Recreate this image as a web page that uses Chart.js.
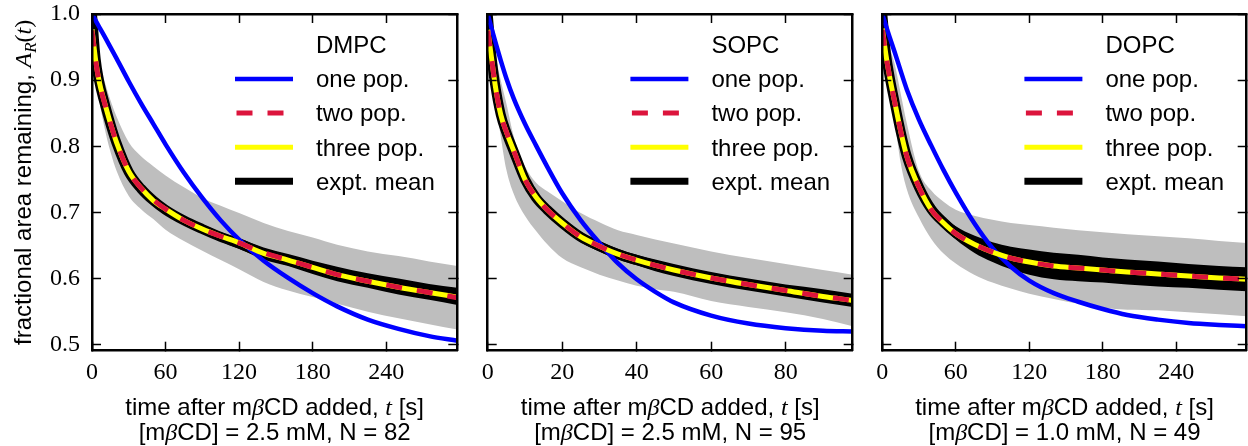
<!DOCTYPE html>
<html><head><meta charset="utf-8">
<script src="https://cdn.jsdelivr.net/npm/chart.js@4.4.1/dist/chart.umd.min.js"></script>
<style>
html,body{margin:0;padding:0;background:#fff;overflow:hidden;width:1248px;height:446px}
canvas{position:absolute;top:0}
</style></head><body>
<canvas id="c1" width="470" height="446" style="left:0px"></canvas>
<canvas id="c2" width="395" height="446" style="left:470px"></canvas>
<canvas id="c3" width="383" height="446" style="left:865px"></canvas>
<script>
// ---------- data ----------
const lipids = ['DMPC', 'SOPC', 'DOPC'];
const concentrations = ['2.5', '2.5', '1.0'];
const sampleCounts = [82, 95, 49];
const seriesNames = ['one pop.', 'two pop.', 'three pop.', 'expt. mean'];
const xTickValues = [[0, 60, 120, 180, 240], [0, 20, 40, 60, 80], [0, 60, 120, 180, 240]];
const xMaxima = [298, 98, 297.5];
const yTickValues = [0.5, 0.6, 0.7, 0.8, 0.9, 1.0];
const yTickLabels = ['0.5', '0.6', '0.7', '0.8', '0.9', '1.0'];

// DMPC
const p1Time  = [0,3,6,10,15,20,30,40,50,60,75,90,105,120,140,160,180,200,225,250,275,298];
const p1One   = [1.000,0.990,0.980,0.967,0.950,0.933,0.898,0.865,0.834,0.803,0.760,0.722,0.688,0.659,0.627,0.601,0.578,0.558,0.538,0.524,0.513,0.506];
const p1Two   = [0.975,0.929,0.896,0.867,0.835,0.806,0.762,0.737,0.719,0.705,0.688,0.675,0.664,0.654,0.639,0.628,0.617,0.606,0.596,0.587,0.579,0.571];
const p1Three = [0.977,0.930,0.897,0.868,0.835,0.806,0.762,0.737,0.718,0.705,0.688,0.675,0.664,0.654,0.638,0.628,0.617,0.606,0.596,0.587,0.579,0.572];
const p1Mean  = [1.000,0.932,0.897,0.867,0.834,0.805,0.761,0.736,0.718,0.704,0.688,0.675,0.663,0.653,0.638,0.628,0.617,0.607,0.597,0.588,0.580,0.573];
const p1MeanHi= [1.000,0.935,0.900,0.870,0.837,0.809,0.765,0.741,0.723,0.710,0.694,0.682,0.670,0.661,0.647,0.637,0.627,0.618,0.608,0.600,0.592,0.586];
const p1MeanLo= [1.000,0.929,0.894,0.864,0.831,0.801,0.757,0.731,0.713,0.698,0.682,0.668,0.656,0.645,0.629,0.619,0.607,0.596,0.586,0.576,0.568,0.560];
const p1SdHi  = [1.000,0.955,0.925,0.900,0.870,0.845,0.806,0.785,0.770,0.756,0.738,0.722,0.710,0.699,0.684,0.672,0.662,0.651,0.641,0.634,0.626,0.619];
const p1SdLo  = [1.000,0.915,0.870,0.830,0.792,0.763,0.725,0.705,0.690,0.674,0.657,0.642,0.628,0.614,0.595,0.582,0.572,0.562,0.550,0.540,0.531,0.523];

// SOPC
const p2Time  = [0,1,2,3.5,5,7,10,13,16,20,25,30,35,40,45,50,60,70,80,90,98];
const p2One   = [1.000,0.979,0.959,0.930,0.903,0.872,0.834,0.801,0.769,0.729,0.688,0.654,0.623,0.599,0.580,0.564,0.544,0.532,0.525,0.521,0.520];
const p2Two   = [0.975,0.934,0.893,0.848,0.822,0.793,0.750,0.723,0.704,0.684,0.663,0.649,0.637,0.628,0.620,0.613,0.601,0.591,0.582,0.573,0.567];
const p2Three = [0.976,0.935,0.893,0.848,0.822,0.793,0.750,0.723,0.704,0.684,0.663,0.649,0.637,0.628,0.620,0.613,0.601,0.591,0.582,0.573,0.567];
const p2Mean  = [1.000,0.937,0.893,0.848,0.821,0.792,0.750,0.722,0.704,0.684,0.663,0.649,0.637,0.628,0.620,0.613,0.601,0.591,0.582,0.574,0.567];
const p2MeanHi= [1.000,0.940,0.896,0.852,0.825,0.797,0.756,0.729,0.711,0.692,0.671,0.657,0.645,0.636,0.629,0.622,0.610,0.600,0.591,0.584,0.577];
const p2MeanLo= [1.000,0.934,0.890,0.844,0.817,0.787,0.744,0.715,0.697,0.676,0.655,0.641,0.629,0.620,0.611,0.604,0.592,0.582,0.573,0.564,0.557];
const p2SdHi  = [1.000,0.970,0.940,0.900,0.865,0.815,0.770,0.745,0.732,0.717,0.699,0.685,0.673,0.666,0.659,0.653,0.641,0.631,0.622,0.613,0.606];
const p2SdLo  = [1.000,0.925,0.875,0.815,0.765,0.728,0.695,0.672,0.652,0.631,0.617,0.606,0.597,0.589,0.584,0.580,0.566,0.557,0.549,0.539,0.528];

// DOPC
const p3Time  = [0,3,6,10,15,20,30,40,50,60,75,90,105,120,140,160,180,200,225,250,275,297.5];
const p3One   = [1.000,0.982,0.965,0.943,0.914,0.886,0.840,0.801,0.764,0.730,0.684,0.646,0.618,0.597,0.578,0.565,0.554,0.545,0.538,0.533,0.530,0.528];
const p3Two   = [0.976,0.937,0.905,0.868,0.823,0.785,0.738,0.704,0.684,0.668,0.652,0.640,0.631,0.625,0.619,0.616,0.613,0.610,0.607,0.604,0.601,0.599];
const p3Three = [0.978,0.938,0.905,0.868,0.823,0.785,0.738,0.704,0.684,0.668,0.652,0.640,0.631,0.625,0.619,0.616,0.613,0.610,0.607,0.604,0.601,0.599];
const p3Mean  = [1.000,0.940,0.905,0.867,0.822,0.785,0.738,0.705,0.685,0.669,0.652,0.640,0.631,0.625,0.619,0.616,0.613,0.610,0.607,0.604,0.601,0.599];
const p3MeanHi= [1.000,0.944,0.909,0.871,0.826,0.790,0.744,0.712,0.694,0.679,0.665,0.655,0.648,0.644,0.639,0.636,0.632,0.629,0.626,0.622,0.619,0.617];
const p3MeanLo= [1.000,0.936,0.901,0.863,0.818,0.780,0.732,0.698,0.676,0.659,0.639,0.625,0.614,0.606,0.599,0.596,0.594,0.591,0.588,0.586,0.583,0.581];
const p3SdHi  = [1.000,0.975,0.950,0.925,0.880,0.835,0.762,0.733,0.716,0.704,0.695,0.689,0.684,0.681,0.677,0.673,0.670,0.667,0.664,0.661,0.657,0.654];
const p3SdLo  = [1.000,0.935,0.890,0.840,0.775,0.735,0.692,0.660,0.638,0.623,0.606,0.594,0.585,0.577,0.569,0.562,0.556,0.553,0.552,0.549,0.546,0.543];

// ---------- drawing ----------
const SANS = '24px "Liberation Sans", Arial, Helvetica, sans-serif';
const MATH = 'italic 24px "Liberation Serif", "Times New Roman", serif';
const MATHUP = '24px "Liberation Serif", "Times New Roman", serif';
const MATHSUB = 'italic 17px "Liberation Serif", "Times New Roman", serif';

function drawRich(ctx, segs, x, y) {
  let w = 0;
  for (const s of segs) { ctx.font = s.f; s.w = ctx.measureText(s.t).width; w += s.w; }
  let cx = x - w / 2;
  for (const s of segs) { ctx.font = s.f; ctx.fillText(s.t, cx, y + (s.dy || 0)); cx += s.w; }
}

const decoPlugin = {
  id: 'deco',
  afterDraw(chart, args, o) {
    const ctx = chart.ctx, a = chart.chartArea;
    ctx.save();
    ctx.fillStyle = '#000'; ctx.textAlign = 'left'; ctx.textBaseline = 'alphabetic';
    const R = a.right, tx = R - 141.3, lx0 = R - 222.3, lx1 = R - 164.3;
    ctx.font = SANS; ctx.fillText(o.title, tx, 53.3);
    o.items.forEach((it, i) => {
      const ds = chart.data.datasets[it.ds];
      const yb = 87.3 + i * 34.1;
      ctx.save();
      ctx.beginPath();
      ctx.strokeStyle = ds.borderColor; ctx.lineWidth = it.w || ds.borderWidth; ctx.lineCap = 'butt';
      ctx.setLineDash(ds.borderDash || []);
      ctx.moveTo(lx0 + (ds.borderDash ? 1.5 : 0), yb - 8.3); ctx.lineTo(lx1, yb - 8.3); ctx.stroke();
      ctx.restore();
      ctx.font = SANS; ctx.fillText(it.text, tx, yb);
    });
    const cx = (a.left + a.right) / 2;
    drawRich(ctx, o.xTitle1, cx, 415);
    drawRich(ctx, o.xTitle2, cx, 440);
    if (o.yTitle) {
      ctx.save(); ctx.translate(31, (a.top + a.bottom) / 2); ctx.rotate(-Math.PI / 2);
      drawRich(ctx, o.yTitle, 0, 0); ctx.restore();
    }
    ctx.restore();
  }
};

const panels = [
  {id:'c1', T:p1Time, one:p1One, two:p1Two, three:p1Three, mean:p1Mean, hi:p1MeanHi, lo:p1MeanLo, sdHi:p1SdHi, sdLo:p1SdLo, pad:{left:0, right:12.7, top:14, bottom:0}},
  {id:'c2', T:p2Time, one:p2One, two:p2Two, three:p2Three, mean:p2Mean, hi:p2MeanHi, lo:p2MeanLo, sdHi:p2SdHi, sdLo:p2SdLo, pad:{left:17.7, right:12.3, top:14, bottom:0}},
  {id:'c3', T:p3Time, one:p3One, two:p3Two, three:p3Three, mean:p3Mean, hi:p3MeanHi, lo:p3MeanLo, sdHi:p3SdHi, sdLo:p3SdLo, pad:{left:17.3, right:1.3, top:14, bottom:0}}
];

const tickFont = {family: '"Liberation Serif", "Times New Roman", serif', size: 24};
const gridCfg = {drawOnChartArea: false, drawTicks: true, tickLength: -9, tickWidth: 1.5, tickColor: '#000', z: 1};
const borderCfg = {display: true, color: '#000', width: 2.5, z: 1};

panels.forEach((p, i) => {
  const pts = arr => p.T.map((t, k) => ({x: t, y: arr[k]}));
  const base = {pointRadius: 0, pointHoverRadius: 0, cubicInterpolationMode: 'monotone', clip: 0};
  const none = 'rgba(0,0,0,0)';
  const datasets = [
    {...base, label: seriesNames[1], data: pts(p.two), borderColor: '#dc143c', borderWidth: 5, borderDash: [16, 15], fill: false},
    {...base, label: seriesNames[2], data: pts(p.three), borderColor: '#ffff00', borderWidth: 5, fill: false},
    {...base, label: seriesNames[0], data: pts(p.one), borderColor: '#0000ff', borderWidth: 4.5, fill: false},
    {...base, label: seriesNames[3], data: pts(p.mean), borderColor: '#000000', borderWidth: 10, fill: false},
    {...base, label: 'mean upper', data: pts(p.hi), borderColor: none, borderWidth: 0, backgroundColor: '#000000', fill: '+1'},
    {...base, label: 'mean lower', data: pts(p.lo), borderColor: none, borderWidth: 0, fill: false},
    {...base, label: 'spread upper', data: pts(p.sdHi), borderColor: none, borderWidth: 0, backgroundColor: '#bebebe', fill: '+1'},
    {...base, label: 'spread lower', data: pts(p.sdLo), borderColor: none, borderWidth: 0, fill: false}
  ];
  const xmax = xMaxima[i];
  const setX = s => { s.ticks = xTickValues[i].map(v => ({value: v})); };
  const setY = s => { s.ticks = yTickValues.map(v => ({value: v})); };
  new Chart(document.getElementById(p.id), {
    type: 'line',
    data: {datasets},
    options: {
      responsive: false, devicePixelRatio: 1, animation: false, events: [],
      layout: {padding: p.pad, autoPadding: false},
      plugins: {
        legend: {display: false}, tooltip: {enabled: false},
        deco: {
          title: lipids[i],
          items: [{ds: 2, text: seriesNames[0]}, {ds: 0, text: seriesNames[1]}, {ds: 1, text: seriesNames[2]}, {ds: 3, text: seriesNames[3], w: 7}],
          xTitle1: [{t: 'time after m', f: SANS}, {t: 'β', f: MATH}, {t: 'CD added, ', f: SANS}, {t: 't', f: MATH}, {t: ' [s]', f: SANS}],
          xTitle2: [{t: '[m', f: SANS}, {t: 'β', f: MATH}, {t: 'CD] = ' + concentrations[i] + ' mM, N = ' + sampleCounts[i], f: SANS}],
          yTitle: i === 0 ? [{t: 'fractional area remaining, ', f: SANS}, {t: 'A', f: MATH}, {t: 'R', f: MATHSUB, dy: 5}, {t: '(', f: MATHUP}, {t: 't', f: MATH}, {t: ')', f: MATHUP}] : null
        }
      },
      scales: {
        x: {type: 'linear', position: 'bottom', min: 0, max: xmax, grid: gridCfg, border: borderCfg,
            afterBuildTicks: setX,
            ticks: {autoSkip: false, maxRotation: 0, minRotation: 0, color: '#000', font: tickFont, padding: 17,
                    callback: v => String(v)},
            afterFit: s => { s.height = 95.3; s.paddingLeft = 0; s.paddingRight = 0; }},
        x2: {type: 'linear', position: 'top', min: 0, max: xmax, grid: gridCfg, border: borderCfg,
            afterBuildTicks: setX,
            ticks: {display: false, autoSkip: false},
            afterFit: s => { s.height = 0; s.paddingLeft = 0; s.paddingRight = 0; }},
        y: {type: 'linear', position: 'left', min: 0.491, max: 1.0, grid: gridCfg, border: borderCfg,
            afterBuildTicks: setY,
            ticks: {display: i === 0, autoSkip: false, color: '#000', font: tickFont, padding: 21,
                    callback: (v, k) => yTickLabels[k]},
            afterFit: s => { s.width = (i === 0 ? 92 : 0); s.paddingTop = 0; s.paddingBottom = 0; }},
        y2: {type: 'linear', position: 'right', min: 0.491, max: 1.0, grid: gridCfg, border: borderCfg,
            afterBuildTicks: setY,
            ticks: {display: false, autoSkip: false},
            afterFit: s => { s.width = 0; s.paddingTop = 0; s.paddingBottom = 0; }}
      }
    },
    plugins: [decoPlugin]
  });
});
</script>
</body></html>
